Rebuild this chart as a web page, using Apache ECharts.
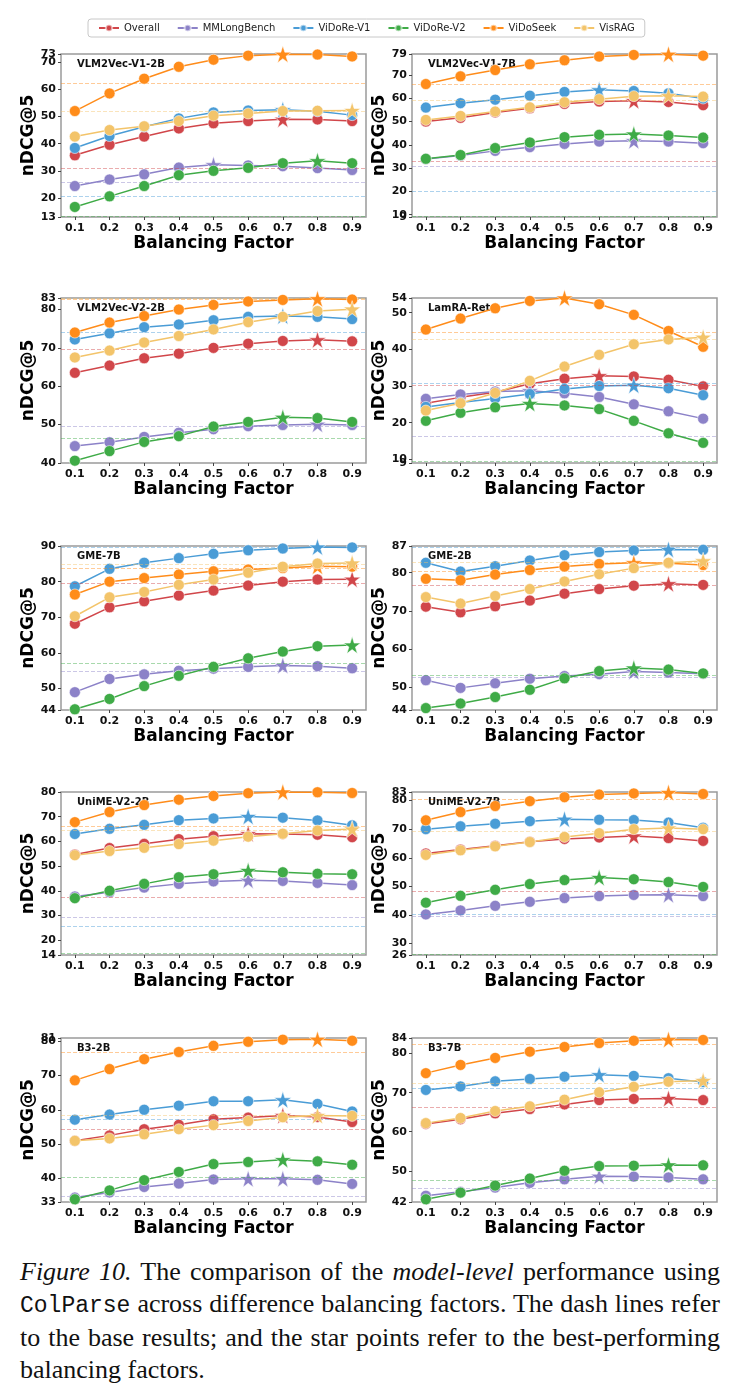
<!DOCTYPE html>
<html>
<head>
<meta charset="utf-8">
<script src="https://cdn.jsdelivr.net/npm/echarts@6/dist/echarts.min.js"></script>
<style>
    body { margin: 0; background: #fff; }
    #wrap { position: relative; width: 738px; height: 1395px; }
    #chart { position: absolute; left: 0; top: 0; width: 738px; height: 1250px; }
    #caption {
        position: absolute; left: 20px; top: 1256px; width: 700px;
        font-family: "Liberation Serif", "Times New Roman", serif; font-size: 26px; line-height: 32px; color: #111;
    }
    #caption .ln { text-align: justify; text-align-last: justify; white-space: nowrap; }
    #caption .last { text-align-last: left; }
    #caption .mono { font-family: "Liberation Mono", monospace; font-size: 23px; }
</style>
</head>
<body>
<div id="wrap">
    <div id="chart"></div>
    <div id="caption">
        <div class="ln"><i>Figure 10.</i> The comparison of the <i>model-level</i> performance using</div>
        <div class="ln"><span class="mono">ColParse</span> across difference balancing factors. The dash lines refer</div>
        <div class="ln">to the base results; and the star points refer to the best-performing</div>
        <div class="ln last">balancing factors.</div>
    </div>
</div>
<script>
    const factors = [0.1, 0.2, 0.3, 0.4, 0.5, 0.6, 0.7, 0.8, 0.9];
    const seriesNames = ['Overall', 'MMLongBench', 'ViDoRe-V1', 'ViDoRe-V2', 'ViDoSeek', 'VisRAG'];
    const colors = ['#d1464a', '#8c82c8', '#4a9cd6', '#3fab47', '#ff8c1a', '#f3c46a'];

    // score rows follow seriesNames order; base = dashed base results
    // ---------------- VLM2Vec-V1-2B ----------------
    const v1_2bScores = [
        [35.7, 39.6, 42.6, 45.6, 47.5, 48.3, 49.0, 48.9, 48.3],
        [24.4, 26.8, 28.7, 31.2, 32.2, 32.0, 31.7, 31.0, 30.3],
        [38.4, 42.8, 46.2, 49.3, 51.5, 52.2, 52.5, 51.9, 50.5],
        [16.7, 20.6, 24.4, 28.4, 30.0, 31.1, 32.8, 33.7, 32.8],
        [52.0, 58.5, 63.9, 68.3, 70.9, 72.4, 72.9, 72.8, 72.1],
        [42.6, 45.0, 46.4, 48.3, 50.3, 51.1, 52.0, 52.1, 52.2]
    ];
    const v1_2bBase = [31.1, 25.7, 20.6, 13.1, 62.2, 52.0];
    const v1_2bTicks = [13, 20, 30, 40, 50, 60, 70, 73];

    // ---------------- VLM2Vec-V1-7B ----------------
    const v1_7bScores = [
        [50.0, 51.6, 53.9, 55.7, 57.6, 58.6, 58.9, 58.4, 57.0],
        [33.9, 35.4, 37.4, 39.0, 40.4, 41.4, 41.7, 41.4, 40.7],
        [56.0, 57.9, 59.4, 61.1, 62.7, 63.6, 63.1, 62.1, 59.9],
        [34.0, 35.6, 38.6, 41.0, 43.3, 44.3, 44.6, 44.0, 43.1],
        [66.1, 69.4, 72.1, 74.6, 76.3, 77.9, 78.6, 78.9, 78.3],
        [50.7, 52.4, 54.3, 56.1, 58.3, 59.6, 60.9, 61.1, 60.7]
    ];
    const v1_7bBase = [32.9, 30.9, 20.0, 9.3, 66.0, 59.0];
    const v1_7bTicks = [9, 10, 20, 30, 40, 50, 60, 70, 79];

    // ---------------- VLM2Vec-V2-2B ----------------
    const v2_2bScores = [
        [63.5, 65.4, 67.3, 68.5, 70.0, 71.1, 71.8, 72.1, 71.7],
        [44.4, 45.4, 46.8, 47.9, 48.8, 49.6, 49.9, 50.1, 49.9],
        [72.2, 73.8, 75.4, 76.1, 77.2, 78.1, 78.3, 78.1, 77.5],
        [40.6, 43.1, 45.5, 47.0, 49.5, 50.7, 51.9, 51.7, 50.7],
        [74.0, 76.6, 78.3, 80.0, 81.2, 82.1, 82.5, 82.8, 82.6],
        [67.5, 69.3, 71.4, 73.1, 74.8, 76.7, 78.1, 79.6, 80.1]
    ];
    const v2_2bBase = [69.6, 49.5, 74.2, 46.5, 82.6, 82.9];
    const v2_2bTicks = [40, 50, 60, 70, 80, 83];

    // ---------------- LamRA-Ret ----------------
    const lamraScores = [
        [25.3, 26.9, 28.3, 30.6, 32.0, 32.8, 32.6, 31.7, 29.9],
        [26.5, 27.7, 28.5, 28.7, 28.0, 27.0, 25.0, 23.1, 21.1],
        [24.3, 25.5, 26.6, 27.8, 29.2, 30.0, 30.2, 29.4, 27.5],
        [20.5, 22.7, 24.2, 25.2, 24.7, 23.7, 20.5, 17.1, 14.5],
        [45.4, 48.4, 51.2, 53.2, 54.0, 52.3, 49.4, 45.0, 40.7],
        [23.3, 25.3, 28.1, 31.4, 35.3, 38.5, 41.4, 42.7, 43.3]
    ];
    const lamraBase = [30.2, 16.4, 30.7, 9.5, 44.6, 42.7];
    const lamraTicks = [9, 10, 20, 30, 40, 50, 54];

    // ---------------- GME-7B ----------------
    const gme7bScores = [
        [68.2, 72.8, 74.5, 76.1, 77.5, 78.9, 80.0, 80.6, 80.7],
        [49.0, 52.7, 54.0, 55.0, 55.6, 56.1, 56.5, 56.3, 55.7],
        [78.7, 83.6, 85.3, 86.6, 87.8, 88.8, 89.3, 89.7, 89.6],
        [44.2, 47.1, 50.7, 53.6, 56.1, 58.5, 60.4, 61.9, 62.2],
        [76.4, 80.0, 81.0, 82.0, 82.9, 83.4, 83.8, 84.3, 84.2],
        [70.3, 75.6, 77.1, 79.1, 80.6, 82.5, 84.2, 85.1, 85.2]
    ];
    const gme7bBase = [79.6, 55.0, 89.6, 57.0, 83.7, 85.0];
    const gme7bTicks = [44, 50, 60, 70, 80, 90];

    // ---------------- GME-2B ----------------
    const gme2bScores = [
        [71.1, 69.6, 71.2, 72.7, 74.5, 75.7, 76.6, 77.1, 76.8],
        [51.8, 49.8, 51.0, 52.2, 52.9, 53.4, 54.1, 53.8, 53.5],
        [82.6, 80.3, 81.7, 83.2, 84.6, 85.4, 85.8, 86.1, 86.0],
        [44.5, 45.7, 47.4, 49.3, 52.3, 54.2, 55.0, 54.6, 53.6],
        [78.4, 78.0, 79.5, 80.7, 81.6, 82.3, 82.6, 82.5, 82.0],
        [73.6, 71.9, 73.9, 75.7, 77.7, 79.6, 81.2, 82.6, 83.1]
    ];
    const gme2bBase = [76.8, 52.7, 86.8, 53.2, 80.5, 82.8];
    const gme2bTicks = [44, 50, 60, 70, 80, 87];

    // ---------------- UniME-V2-2B ----------------
    const unime2bScores = [
        [54.7, 57.3, 59.0, 60.9, 62.1, 63.1, 63.0, 62.7, 61.7],
        [37.7, 39.4, 41.3, 42.8, 43.8, 44.3, 44.0, 43.2, 42.3],
        [63.0, 65.1, 66.7, 68.6, 69.3, 70.1, 69.6, 68.5, 66.5],
        [37.0, 40.0, 42.8, 45.5, 46.7, 48.2, 47.5, 46.9, 46.7],
        [67.8, 71.9, 74.7, 76.9, 78.4, 79.5, 80.0, 79.9, 79.6],
        [54.4, 56.1, 57.4, 58.9, 60.3, 61.9, 63.1, 64.4, 65.0]
    ];
    const unime2bBase = [37.4, 29.3, 25.8, 14.7, 66.3, 64.4];
    const unime2bTicks = [14, 20, 30, 40, 50, 60, 70, 80];

    // ---------------- UniME-V2-7B ----------------
    const unime7bScores = [
        [61.5, 62.9, 64.2, 65.6, 66.6, 67.1, 67.6, 66.9, 65.9],
        [40.2, 41.6, 43.2, 44.6, 45.9, 46.6, 47.0, 47.1, 46.6],
        [70.0, 71.0, 71.9, 72.8, 73.5, 73.3, 73.2, 72.3, 70.5],
        [44.3, 46.7, 48.8, 50.8, 52.2, 53.1, 52.5, 51.5, 49.8],
        [73.1, 76.0, 78.1, 79.8, 81.2, 82.1, 82.5, 82.8, 82.3],
        [61.0, 62.6, 64.0, 65.5, 67.3, 68.6, 70.0, 70.4, 70.0]
    ];
    const unime7bBase = [48.4, 39.7, 40.2, 26.2, 80.5, 69.1];
    const unime7bTicks = [26, 30, 40, 50, 60, 70, 80, 83];

    // ---------------- B3-2B ----------------
    const b3_2bScores = [
        [50.9, 52.5, 54.3, 55.6, 57.2, 57.7, 58.3, 57.9, 56.4],
        [34.3, 35.8, 37.4, 38.4, 39.6, 39.8, 39.8, 39.5, 38.3],
        [57.1, 58.6, 60.0, 61.2, 62.5, 62.5, 62.9, 61.7, 59.5],
        [33.8, 36.4, 39.4, 41.8, 44.1, 44.7, 45.4, 44.9, 43.9],
        [68.6, 71.9, 74.8, 76.9, 78.7, 79.9, 80.5, 80.6, 80.2],
        [50.9, 51.6, 52.8, 54.3, 55.5, 56.7, 57.8, 58.3, 58.2]
    ];
    const b3_2bBase = [54.3, 34.6, 57.2, 40.1, 76.9, 58.4];
    const b3_2bTicks = [33, 40, 50, 60, 70, 80, 81];

    // ---------------- B3-7B ----------------
    const b3_7bScores = [
        [62.0, 63.2, 64.7, 65.8, 67.0, 68.1, 68.4, 68.5, 68.1],
        [43.6, 44.6, 45.7, 46.9, 47.8, 48.6, 48.5, 48.3, 47.8],
        [70.7, 71.6, 72.9, 73.5, 74.1, 74.6, 74.3, 73.7, 72.7],
        [42.7, 44.4, 46.2, 48.0, 50.0, 51.2, 51.3, 51.5, 51.4],
        [75.0, 77.1, 78.9, 80.5, 81.7, 82.7, 83.3, 83.6, 83.5],
        [62.2, 63.5, 65.3, 66.5, 68.2, 70.1, 71.5, 72.8, 73.1]
    ];
    const b3_7bBase = [66.3, 45.5, 71.2, 47.6, 82.3, 72.4];
    const b3_7bTicks = [42, 50, 60, 70, 80, 84];

    let panels = [
        { title: 'VLM2Vec-V1-2B', scores: v1_2bScores, base: v1_2bBase, ticks: v1_2bTicks },
        { title: 'VLM2Vec-V1-7B', scores: v1_7bScores, base: v1_7bBase, ticks: v1_7bTicks },
        { title: 'VLM2Vec-V2-2B', scores: v2_2bScores, base: v2_2bBase, ticks: v2_2bTicks },
        { title: 'LamRA-Ret', scores: lamraScores, base: lamraBase, ticks: lamraTicks },
        { title: 'GME-7B', scores: gme7bScores, base: gme7bBase, ticks: gme7bTicks },
        { title: 'GME-2B', scores: gme2bScores, base: gme2bBase, ticks: gme2bTicks },
        { title: 'UniME-V2-2B', scores: unime2bScores, base: unime2bBase, ticks: unime2bTicks },
        { title: 'UniME-V2-7B', scores: unime7bScores, base: unime7bBase, ticks: unime7bTicks },
        { title: 'B3-2B', scores: b3_2bScores, base: b3_2bBase, ticks: b3_2bTicks },
        { title: 'B3-7B', scores: b3_7bScores, base: b3_7bBase, ticks: b3_7bTicks }
    ];

    // 5-point star marker for best balancing factor
    let STAR = 'path://M50,2 L61.2,36.6 L97.6,36.6 L68.2,58 L79.4,92.6 L50,71.2 L20.6,92.6 L31.8,58 L2.4,36.6 L38.8,36.6 Z';

    // layout of the 5x2 panel grid
    let colLeft = [61, 412];
    let rowTop = [54, 298, 546, 792, 1038];
    let rowHeight = [163, 165, 164, 163, 164];
    let plotWidth = 305;

    let grids = [], xAxes = [], yAxes = [], innerAxes = [], titles = [], series = [];

    let labelStyle = { fontSize: 11, fontWeight: 'bold', color: '#111', margin: 5 };

    panels.forEach((p, k) => {
        let left = colLeft[k % 2];
        let top = rowTop[Math.floor(k / 2)];
        let height = rowHeight[Math.floor(k / 2)];
        let yMin = p.ticks[0], yMax = p.ticks[p.ticks.length - 1];

        grids.push({
            left: left, top: top, width: plotWidth, height: height,
            show: true, borderColor: '#9a9a9a', borderWidth: 1.5, backgroundColor: '#fff'
        });

        xAxes.push({
            gridIndex: k, type: 'value', min: 0.06, max: 0.94,
            name: 'Balancing Factor', nameLocation: 'middle', nameGap: 17,
            nameTextStyle: { fontSize: 17, fontWeight: 'bold', color: '#000' },
            axisLine: { show: false },
            axisTick: { show: true, customValues: factors, length: 3, lineStyle: { color: '#444' } },
            axisLabel: {
                customValues: factors, formatter: v => v.toFixed(1),
                fontSize: 11, fontWeight: 'bold', color: '#111', margin: 6
            },
            splitLine: { show: false }
        });

        // main y axis: ticks + the odd min/max labels
        yAxes.push({
            gridIndex: k, type: 'value', min: yMin, max: yMax,
            name: 'nDCG@5', nameLocation: 'middle', nameGap: 18,
            nameTextStyle: { fontSize: 17, fontWeight: 'bold', color: '#000' },
            axisLine: { show: false },
            axisTick: { show: true, customValues: p.ticks, length: 3, lineStyle: { color: '#444' } },
            axisLabel: Object.assign({ customValues: [yMin, yMax] }, labelStyle),
            splitLine: { show: false }
        });

        // second y axis on same grid for the inner labels, so they may overlap like matplotlib
        innerAxes.push({
            gridIndex: k, type: 'value', min: yMin, max: yMax, position: 'left',
            axisLine: { show: false }, axisTick: { show: false }, splitLine: { show: false },
            axisLabel: Object.assign({ customValues: p.ticks.slice(1, -1) }, labelStyle)
        });

        titles.push({
            text: p.title, left: left + 16, top: top + 5, padding: 0,
            textStyle: { fontSize: 10, fontWeight: 'bold', color: '#111' }
        });

        p.scores.forEach((vals, s) => {
            let best = Math.max(...vals);
            series.push({
                type: 'line',
                name: seriesNames[s],
                xAxisIndex: k, yAxisIndex: k,
                color: colors[s],
                symbol: 'circle',
                symbolSize: 11,
                showSymbol: true,
                z: 2 + s,
                lineStyle: { width: 1.5 },
                itemStyle: { borderColor: 'rgba(255,255,255,0.55)', borderWidth: 1 },
                data: vals.map((v, i) => ({
                    value: [factors[i], v],
                    symbol: v === best ? STAR : 'circle',
                    symbolSize: v === best ? 17 : 11
                })),
                markLine: {
                    silent: true, symbol: 'none', label: { show: false },
                    lineStyle: { type: 'dashed', width: 1, color: colors[s], opacity: 0.45 },
                    data: [{ yAxis: p.base[s] }]
                }
            });
        });
    });

    let chart = echarts.init(document.getElementById('chart'));
    chart.setOption({
        animation: false,
        textStyle: { fontFamily: 'DejaVu Sans' },
        title: titles,
        legend: {
            data: seriesNames,
            left: 88, top: 19,
            padding: [4, 10],
            itemGap: 17, itemWidth: 20, itemHeight: 8,
            borderColor: '#c8c8c8', borderWidth: 1, borderRadius: 3,
            textStyle: { fontSize: 10, color: '#222' }
        },
        grid: grids,
        xAxis: xAxes,
        yAxis: yAxes.concat(innerAxes),
        series: series
    });
</script>
</body>
</html>
